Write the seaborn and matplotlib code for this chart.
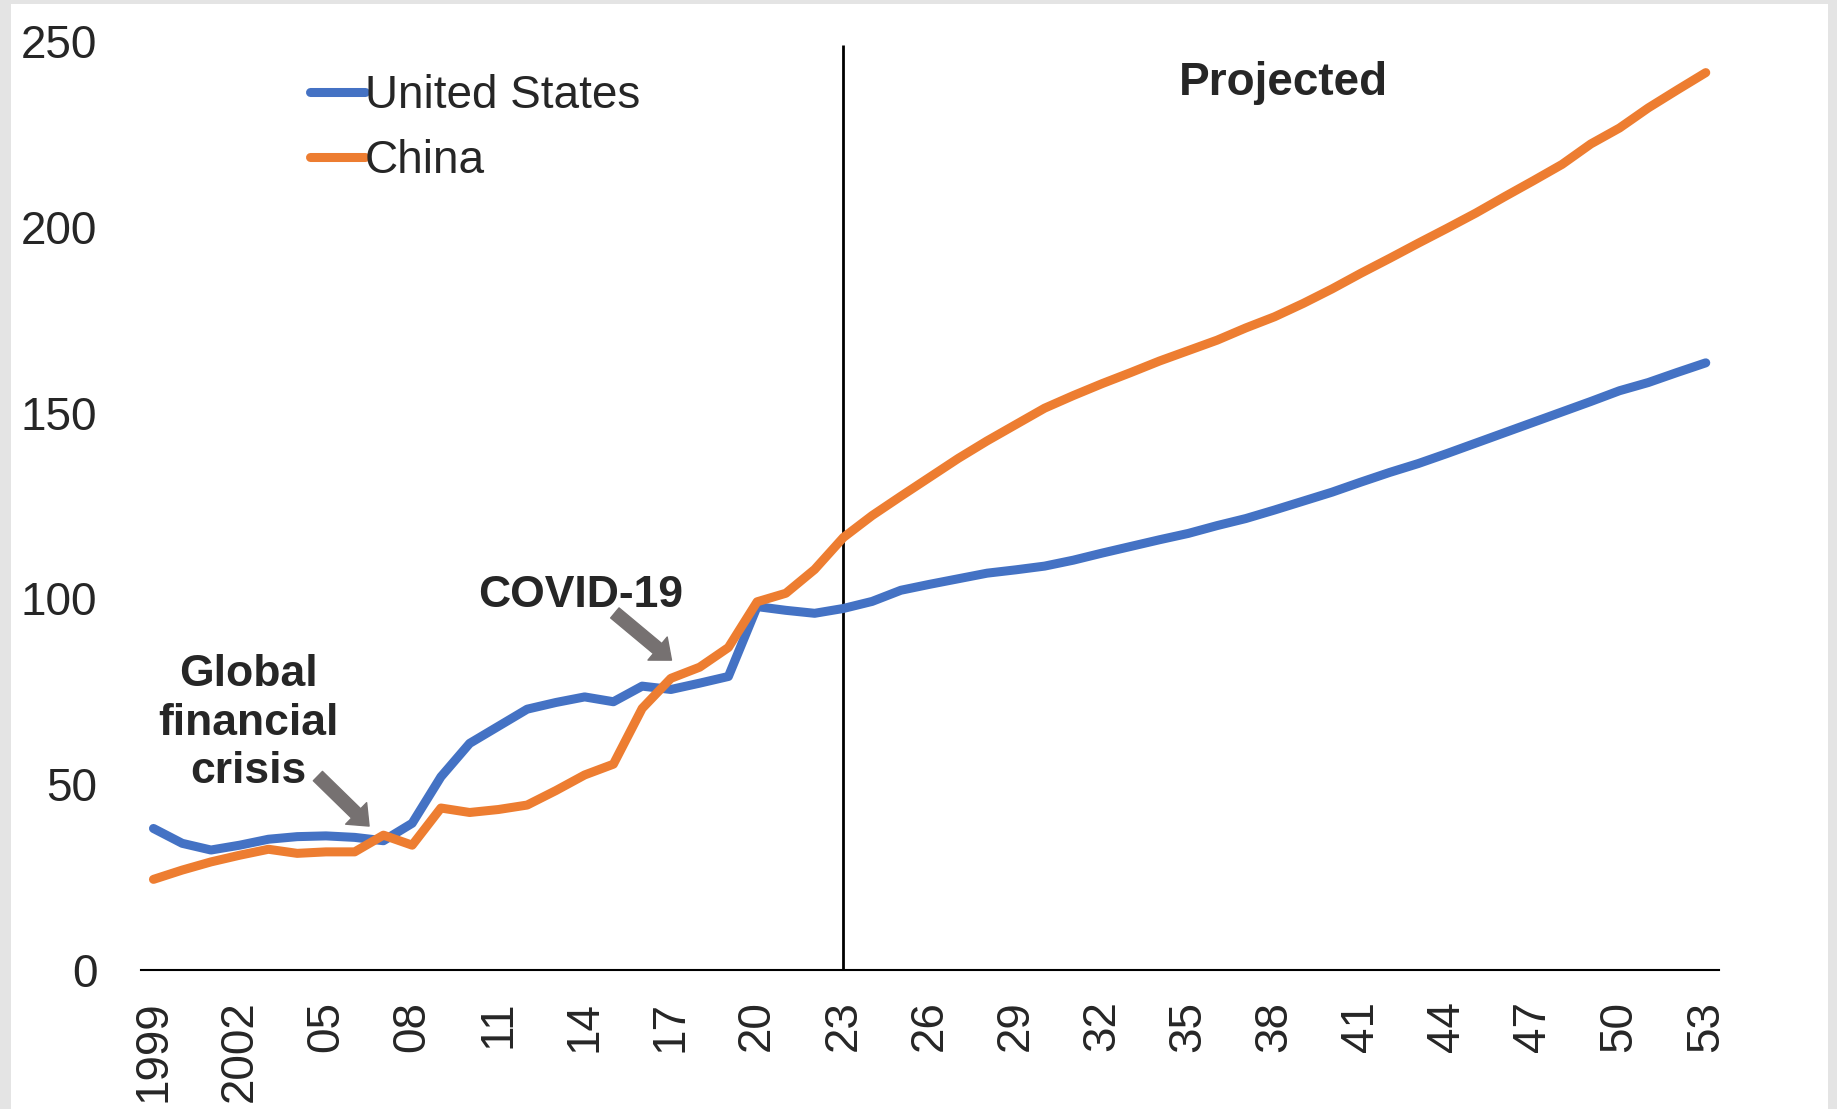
import pandas as pd
import seaborn as sns
import matplotlib.pyplot as plt
from matplotlib.patches import Rectangle

years = list(range(1999, 2054))

us_values = [38.1, 34.1, 32.3, 33.6, 35.2, 35.9, 36.1, 35.7, 34.8, 39.5,
             52.0, 61.0, 65.6, 70.2, 72.0, 73.5, 72.2, 76.4, 75.5, 77.2,
             79.0, 97.8, 96.8, 96.0, 97.3, 99.2, 102.2, 103.8, 105.3, 106.8,
             107.7, 108.7, 110.3, 112.2, 114.0, 115.8, 117.5, 119.6, 121.5, 123.8,
             126.2, 128.6, 131.3, 133.9, 136.3, 139.0, 141.8, 144.6, 147.4, 150.2,
             153.0, 155.9, 158.1, 160.8, 163.4]

china_values = [24.4, 26.9, 29.1, 30.9, 32.5, 31.4, 31.8, 31.8, 36.3, 33.6,
                43.6, 42.4, 43.2, 44.4, 48.3, 52.5, 55.4, 70.4, 78.5, 81.5,
                86.8, 99.1, 101.4, 107.8, 116.4, 122.3, 127.5, 132.6, 137.7, 142.4,
                146.8, 151.2, 154.6, 157.8, 160.8, 163.9, 166.7, 169.5, 172.8, 175.8,
                179.4, 183.3, 187.5, 191.5, 195.6, 199.6, 203.7, 208.1, 212.4, 216.8,
                222.3, 226.6, 232.0, 236.8, 241.5]

tick_years = list(range(1999, 2054, 3))
tick_labels = ['1999', '2002', '05', '08', '11', '14', '17', '20', '23',
               '26', '29', '32', '35', '38', '41', '44', '47', '50', '53']
y_ticks = [0, 50, 100, 150, 200, 250]

series_names = ['United States', 'China']
colors = {'United States': '#4472C4', 'China': '#ED7D31'}
projection_start = 2023

df = pd.DataFrame({
    'year': years * 2,
    'value': us_values + china_values,
    'country': ['United States'] * len(years) + ['China'] * len(years),
})

sns.set_style('white')
plt.rcParams['font.family'] = ['Liberation Sans', 'DejaVu Sans']
plt.rcParams['font.size'] = 33

fig = plt.figure(figsize=(18.37, 11.09), dpi=100)
fig.patch.set_facecolor('#e4e4e4')
# white page inside the thin grey frame
fig.patches.append(Rectangle((11 / 1837, 0), 1 - 20 / 1837, 1 - 4 / 1109,
                             transform=fig.transFigure, facecolor='white',
                             edgecolor='none', zorder=-5))
ax = fig.add_axes([0.0765, 0.1253, 0.8591, 0.8377])
ax.set_facecolor('none')

for name in series_names:
    sns.lineplot(data=df[df['country'] == name], x='year', y='value',
                 color=colors[name], linewidth=6.5, label=name,
                 solid_capstyle='round', ax=ax, zorder=3)

ax.vlines(projection_start, 0, 249, color='black', linewidth=2, zorder=2)

ax.set_xlim(1998.55, 2053.45)
ax.set_ylim(0, 250)
ax.set_xticks(tick_years)
ax.set_xticklabels(tick_labels, rotation=90)
ax.set_yticks(y_ticks)
ax.tick_params(axis='x', length=0, pad=22, labelsize=33)
ax.tick_params(axis='y', length=0, pad=31, labelsize=33)
ax.set_xlabel('')
ax.set_ylabel('')
for side in ['top', 'right', 'left']:
    ax.spines[side].set_visible(False)
ax.spines['bottom'].set_color('black')
ax.spines['bottom'].set_linewidth(1.5)

leg = ax.legend(loc='upper left', bbox_to_anchor=(310 / 1837, 1 - 74 / 1109),
                bbox_transform=fig.transFigure, frameon=False, fontsize=33,
                handlelength=1.2, handletextpad=0.0, labelspacing=0.45,
                borderpad=0, borderaxespad=0)
for line in leg.get_lines():
    line.set_linewidth(6.5)
    line.set_solid_capstyle('round')

ax.text(2038.3, 235.5, 'Projected', ha='center', va='baseline',
        fontsize=33, fontweight='bold')
ax.text(2013.87, 97.8, 'COVID-19', ha='center', va='baseline',
        fontsize=32, fontweight='bold')
for i, line_text in enumerate(['Global', 'financial', 'crisis']):
    ax.text(2002.29, 76.4 - i * 13.1, line_text, ha='center', va='baseline',
            fontsize=32, fontweight='bold')

arrow_style = dict(arrowstyle='simple,head_width=1.08,head_length=0.65,tail_width=0.47',
                   mutation_scale=20, color='#767171', shrinkA=0, shrinkB=0)
ax.annotate('', xy=(2006.5, 38.75), xytext=(2004.72, 52.2), arrowprops=arrow_style)
ax.annotate('', xy=(2017.02, 83.4), xytext=(2015.05, 96.1), arrowprops=arrow_style)

fig.savefig('out.png', dpi=100, facecolor=fig.get_facecolor())
